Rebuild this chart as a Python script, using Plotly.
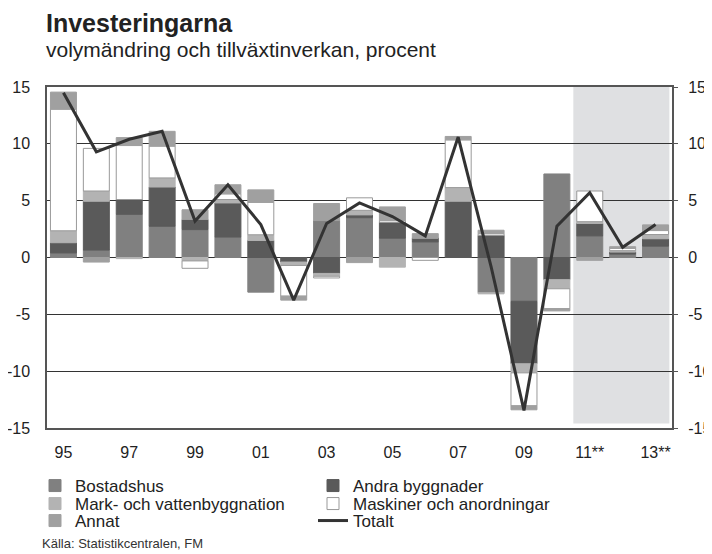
import plotly.graph_objects as go

years = list(range(1995, 2014))
tick_vals = [1995, 1997, 1999, 2001, 2003, 2005, 2007, 2009, 2011, 2013]
tick_text = ["95", "97", "99", "01", "03", "05", "07", "09", "11**", "13**"]
y_ticks = [-15, -10, -5, 0, 5, 10, 15]
y_tick_text = ["-15", "-10", "-5", "0", "5", "10", "15"]

bostadshus = [0.4, 0.65, 3.8, 2.75, 2.45, 1.8, -3.05, 0.0, 3.25, 3.5, 1.7, 1.37, 0.0, -3.1, -3.85, 7.35, 1.9, 0.3, 1.0]
andra_bygg = [0.9, 4.3, 1.3, 3.45, 0.9, 3.0, 1.5, -0.4, -1.4, 0.25, 1.4, 0.35, 4.95, 1.95, -5.5, -1.95, 1.1, 0.18, 0.65]
mark_vatten = [1.05, 0.9, -0.1, 0.8, -0.3, 0.3, 0.5, -0.3, -0.25, 0.4, -0.85, 0.0, 1.2, -0.1, -0.8, -0.8, 0.15, 0.12, 0.37]
maskiner = [10.7, 3.75, 4.75, 2.8, -0.65, 0.5, 2.85, -2.7, -0.15, 1.1, 0.15, -0.25, 4.2, 0.15, -2.9, -1.75, 2.7, 0.2, 0.35]
annat = [1.5, -0.4, 0.7, 1.3, 0.85, 0.8, 1.1, -0.35, 1.5, -0.45, 1.2, 0.38, 0.3, 0.3, -0.35, -0.2, -0.25, 0.15, 0.5]
totalt = [14.5, 9.3, 10.4, 11.1, 3.2, 6.4, 2.9, -3.75, 3.0, 4.8, 3.6, 1.9, 10.6, -0.8, -13.45, 2.75, 5.7, 0.9, 2.9]

FONT = "Liberation Sans, Arial, sans-serif"
TXT = "#222222"

# The page body has an 8px default margin, so the figure is drawn 8px in from
# the window's top-left corner; size and position everything accordingly.
OFF = 8
WIN_W, WIN_H = 712, 554
W, H = WIN_W - OFF, WIN_H - OFF
PLOT_L, PLOT_R, PLOT_T, PLOT_B = 47, 672, 87, 428   # window pixel coordinates
ML, MR, MT, MB = PLOT_L - OFF, WIN_W - PLOT_R, PLOT_T - OFF, WIN_H - PLOT_B
PW, PH = W - ML - MR, H - MT - MB


def px_x(px):
    return (px - OFF - ML) / PW


def px_y(py):
    return (H - MB - (py - OFF)) / PH


series = [
    ("Bostadshus", bostadshus, "#808080", "#808080", "legend"),
    ("Andra byggnader", andra_bygg, "#5a5a5a", "#5a5a5a", "legend"),
    ("Mark- och vattenbyggnation", mark_vatten, "#b3b3b3", "#b3b3b3", "legend2"),
    ("Maskiner och anordningar", maskiner, "#ffffff", "#999999", "legend2"),
    ("Annat", annat, "#a0a0a0", "#a0a0a0", "legend3"),
]

fig = go.Figure()
for name, vals, fill, line, lg in series:
    fig.add_trace(go.Bar(
        x=years, y=vals, name=name, width=0.79, legend=lg,
        marker=dict(color=fill, line=dict(color=line, width=1)),
    ))

fig.add_trace(go.Scatter(
    x=years, y=totalt, name="Totalt", mode="lines", legend="legend3",
    line=dict(color="#333333", width=3), yaxis="y2",
))

fig.add_shape(type="rect", xref="x", yref="y", x0=2010.5, x1=2013.42, y0=-14.6, y1=15,
              fillcolor="#dfe0e2", line=dict(width=0), layer="below")


def row_legend(py):
    return dict(
        orientation="h", traceorder="normal",
        xref="paper", yref="paper",
        x=px_x(35), y=px_y(py), xanchor="left", yanchor="middle",
        entrywidth=233, entrywidthmode="pixels",
        font=dict(size=17, family=FONT, color=TXT),
        itemwidth=30, bgcolor="rgba(0,0,0,0)", borderwidth=0,
    )


fig.update_layout(
    width=W, height=H,
    margin=dict(l=ML, r=MR, t=MT, b=MB, autoexpand=False),
    paper_bgcolor="white", plot_bgcolor="white",
    barmode="relative",
    font=dict(family=FONT, size=16, color=TXT),
    showlegend=True,
    legend=row_legend(486),
    legend2=row_legend(504),
    legend3=row_legend(521),
    xaxis=dict(
        range=[1994.5, 2013.5], tickvals=tick_vals, ticktext=tick_text,
        showgrid=False, zeroline=False, ticks="", automargin=False,
        showline=True, linecolor="#555555", linewidth=1.5, mirror=True,
        ticklabelstandoff=9,
        tickfont=dict(size=16, family=FONT, color=TXT),
    ),
    yaxis=dict(
        range=[-15, 15], tickvals=y_ticks, ticktext=y_tick_text,
        showgrid=True, gridcolor="#333333", gridwidth=1,
        zeroline=True, zerolinecolor="#333333", zerolinewidth=1,
        showline=True, linecolor="#555555", linewidth=1.5, mirror=True,
        ticks="", ticklabelstandoff=12, automargin=False,
        tickfont=dict(size=16, family=FONT, color=TXT),
    ),
    yaxis2=dict(
        range=[-15, 15], tickvals=y_ticks, ticktext=y_tick_text,
        overlaying="y", side="right", showgrid=False, zeroline=False,
        ticks="outside", ticklen=5, tickcolor="#555555", automargin=False,
        ticklabelstandoff=7,
        tickfont=dict(size=16, family=FONT, color=TXT),
    ),
    annotations=[
        dict(text="<b>Investeringarna</b>", xref="paper", yref="paper",
             x=px_x(44), y=px_y(23), xanchor="left", yanchor="middle", showarrow=False,
             font=dict(size=25, family=FONT, color=TXT)),
        dict(text="volymändring och tillväxtinverkan, procent", xref="paper", yref="paper",
             x=px_x(44), y=px_y(49), xanchor="left", yanchor="middle", showarrow=False,
             font=dict(size=21, family=FONT, color=TXT)),
        dict(text="Källa: Statistikcentralen, FM", xref="paper", yref="paper",
             x=px_x(40), y=px_y(543), xanchor="left", yanchor="middle", showarrow=False,
             font=dict(size=13, family=FONT, color="#333333")),
    ],
)

fig.write_html("out.html")
